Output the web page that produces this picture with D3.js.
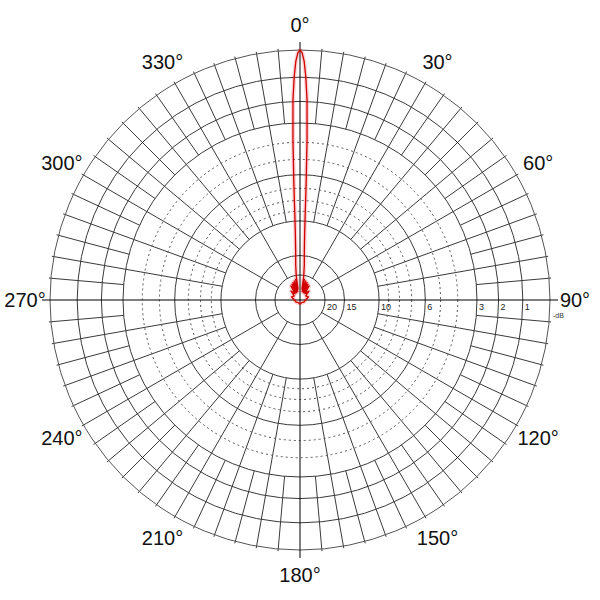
<!DOCTYPE html>
<html>
<head>
<meta charset="utf-8">
<script src="https://cdn.jsdelivr.net/npm/d3@7/dist/d3.min.js"></script>
<style>
  html, body { margin: 0; padding: 0; background: #fff; }
  svg { display: block; }
</style>
</head>
<body>
<svg id="chart" width="600" height="600"></svg>
<script>
// ---- data ----
const angleTicks = [0, 30, 60, 90, 120, 150, 180, 210, 240, 270, 300, 330];
const angleLabels = ["0°", "30°", "60°", "90°", "120°", "150°", "180°", "210°", "240°", "270°", "300°", "330°"];
const solidRings = [0, 1, 2, 3, 6, 10, 15, 20];
const dashedRings = [4, 5, 7, 8, 9];
const ringLabels = ["20", "15", "10", "6", "3", "2", "1"];
const ringLabelValues = [20, 15, 10, 6, 3, 2, 1];
const unitLabel = "-dB";

// spoke bands: [inner dB, outer dB, angular step]
const spokeBandInner = [20, 10, 3];
const spokeBandOuter = [10, 3, 0];
const spokeBandStep = [30, 10, 5];

// radiation pattern (angle in degrees, level in -dB)
const patternAngle = [-180, -150, -120, -90, -70, -55, -45, -38, -33, -30, -27, -24.5, -22, -19.5, -17, -14.5, -12, -10, -9, -7, -5, -4, -3.5, -3, -2.5, -2, -1.5, -1, -0.5,
  0, 0.5, 1, 1.5, 2, 2.5, 3, 3.5, 4, 5, 7, 9, 10, 12, 14.5, 17, 19.5, 22, 24.5, 27, 30, 33, 38, 45, 55, 70, 90, 120, 150];
const patternDb = [36, 38, 35, 33, 29, 31, 26, 30, 23.5, 29, 23, 30, 22.5, 29, 22, 29, 21.5, 27, 20.5, 17, 14, 11.5, 9.5, 6.5, 3.8, 1.9, 1.0, 0.4, 0.1,
  0, 0.1, 0.4, 1.0, 1.9, 3.8, 6.5, 9.5, 11.5, 14, 17, 20.5, 27, 21.5, 29, 22, 29, 22.5, 30, 23, 29, 23.5, 30, 26, 31, 29, 33, 35, 38];

// ---- layout ----
const cx = 300, cy = 300, R = 250;
const svg = d3.select("#chart");
const g = svg.append("g").attr("transform", `translate(${cx},${cy})`);

// radius scale: linear in field amplitude
const amp = dB => Math.pow(10, -dB / 20);
const rAmp = d3.scaleLinear().domain([0, 1]).range([0, R]);
const r = dB => rAmp(amp(dB));
const rad = a => a * Math.PI / 180;

const gridColor = "#3a3a3a";

// spokes
spokeBandStep.forEach((step, i) => {
  const r0 = r(spokeBandInner[i]);
  const r1 = r(spokeBandOuter[i]) + (spokeBandOuter[i] === 0 ? 2 : 0);
  const angles = d3.range(0, 360, step).filter(a => a % 90 !== 0);
  g.append("g").selectAll("line").data(angles).join("line")
    .attr("x1", a => r0 * Math.sin(rad(a)))
    .attr("y1", a => -r0 * Math.cos(rad(a)))
    .attr("x2", a => r1 * Math.sin(rad(a)))
    .attr("y2", a => -r1 * Math.cos(rad(a)))
    .attr("stroke", gridColor)
    .attr("stroke-width", 1);
});

// dashed rings
g.append("g").selectAll("circle").data(dashedRings).join("circle")
  .attr("r", d => r(d))
  .attr("fill", "none")
  .attr("stroke", "#555")
  .attr("stroke-width", 1)
  .attr("stroke-dasharray", "2,3");

// solid rings
g.append("g").selectAll("circle").data(solidRings).join("circle")
  .attr("r", d => r(d))
  .attr("fill", "none")
  .attr("stroke", d => d === 0 ? "#555" : gridColor)
  .attr("stroke-width", 1);

// main axes
g.append("line").attr("x1", -R - 8).attr("x2", R + 8).attr("y1", 0).attr("y2", 0)
  .attr("stroke", "#000").attr("stroke-width", 1);
g.append("line").attr("y1", -R - 8).attr("y2", R + 8).attr("x1", 0).attr("x2", 0)
  .attr("stroke", "#000").attr("stroke-width", 1);

// ring labels
g.append("g").selectAll("text").data(ringLabelValues).join("text")
  .attr("x", d => r(d) + 2)
  .attr("y", 10)
  .attr("font-family", "Liberation Sans, Arial, sans-serif")
  .attr("font-size", 9)
  .attr("fill", "#222")
  .text((d, i) => ringLabels[i]);
g.append("text")
  .attr("x", R + 3).attr("y", 18)
  .attr("font-family", "Liberation Sans, Arial, sans-serif")
  .attr("font-size", 7)
  .attr("fill", "#333")
  .text(unitLabel);

// angle labels
const labelR = 275;
g.append("g").selectAll("text").data(angleTicks).join("text")
  .attr("x", a => labelR * Math.sin(rad(a)))
  .attr("y", a => -labelR * Math.cos(rad(a)))
  .attr("text-anchor", "middle")
  .attr("dominant-baseline", "central")
  .attr("font-family", "Liberation Sans, Arial, sans-serif")
  .attr("font-size", 20)
  .attr("fill", "#111")
  .text((a, i) => angleLabels[i]);

// pattern
const patternData = patternAngle.map((a, i) => ({ a, db: patternDb[i] }));
const line = d3.lineRadial()
  .angle(d => rad(d.a))
  .radius(d => r(d.db))
  .curve(d3.curveLinearClosed);
g.append("path").datum(patternData)
  .attr("d", line)
  .attr("fill", "none")
  .attr("stroke", "rgba(230,40,40,0.22)")
  .attr("stroke-width", 4)
  .attr("stroke-linejoin", "round");
g.append("path").datum(patternData)
  .attr("d", line)
  .attr("fill", "none")
  .attr("stroke", "#d00000")
  .attr("stroke-width", 1.3)
  .attr("stroke-linejoin", "round");
</script>
</body>
</html>
